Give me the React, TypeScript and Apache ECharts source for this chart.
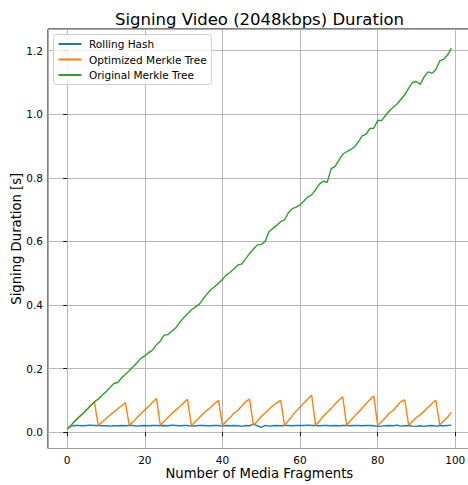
import React, { useEffect, useRef } from "react";
import * as echarts from "echarts";

const TITLE = "Signing Video (2048kbps) Duration";
const X_LABEL = "Number of Media Fragments";
const Y_LABEL = "Signing Duration [s]";
const SERIES_NAMES = ["Rolling Hash", "Optimized Merkle Tree", "Original Merkle Tree"];
const COLORS = ["#1f77b4", "#ff7f0e", "#2ca02c"];

const rollingHash = [
  0.010, 0.019, 0.021, 0.021, 0.020, 0.021, 0.022, 0.021, 0.021, 0.020,
  0.020, 0.019, 0.020, 0.020, 0.021, 0.020, 0.021, 0.021, 0.019, 0.020,
  0.021, 0.020, 0.021, 0.021, 0.020, 0.021, 0.020, 0.022, 0.021, 0.020,
  0.021, 0.021, 0.019, 0.020, 0.021, 0.021, 0.020, 0.020, 0.021, 0.021,
  0.019, 0.021, 0.020, 0.021, 0.020, 0.018, 0.021, 0.020, 0.026, 0.020,
  0.015, 0.021, 0.019, 0.020, 0.021, 0.020, 0.021, 0.021, 0.020, 0.021,
  0.021, 0.021, 0.022, 0.021, 0.021, 0.020, 0.021, 0.021, 0.020, 0.021,
  0.020, 0.021, 0.021, 0.020, 0.021, 0.021, 0.020, 0.021, 0.021, 0.020,
  0.018, 0.019, 0.020, 0.021, 0.020, 0.022, 0.019, 0.020, 0.021, 0.019,
  0.018, 0.020, 0.018, 0.020, 0.021, 0.019, 0.020, 0.020, 0.021, 0.022,
];

const optimizedMerkle = [
  0.010, 0.022, 0.035, 0.047, 0.058, 0.070, 0.083, 0.095,
  0.021, 0.032, 0.043, 0.053, 0.063, 0.073, 0.082, 0.093,
  0.021, 0.033, 0.046, 0.058, 0.070, 0.081, 0.094, 0.106,
  0.021, 0.034, 0.047, 0.059, 0.070, 0.080, 0.092, 0.103,
  0.020, 0.033, 0.045, 0.058, 0.068, 0.078, 0.090, 0.100,
  0.021, 0.034, 0.046, 0.060, 0.069, 0.082, 0.096, 0.104,
  0.021, 0.034, 0.049, 0.060, 0.072, 0.083, 0.092, 0.100,
  0.021, 0.036, 0.051, 0.066, 0.079, 0.092, 0.104, 0.116,
  0.021, 0.035, 0.050, 0.062, 0.074, 0.088, 0.100, 0.111,
  0.021, 0.036, 0.050, 0.062, 0.076, 0.089, 0.102, 0.114,
  0.021, 0.033, 0.045, 0.060, 0.068, 0.083, 0.096, 0.101,
  0.021, 0.034, 0.046, 0.055, 0.066, 0.078, 0.090, 0.100,
  0.022, 0.035, 0.047, 0.062,
];

const originalMerkle = [
  0.010, 0.022, 0.035, 0.047, 0.058, 0.070, 0.083, 0.095, 0.104, 0.116,
  0.127, 0.140, 0.153, 0.156, 0.170, 0.182, 0.193, 0.206, 0.218, 0.232,
  0.240, 0.250, 0.258, 0.275, 0.287, 0.305, 0.307, 0.318, 0.328, 0.345,
  0.360, 0.372, 0.385, 0.393, 0.402, 0.418, 0.434, 0.448, 0.458, 0.468,
  0.480, 0.494, 0.503, 0.514, 0.526, 0.529, 0.545, 0.562, 0.576, 0.589,
  0.590, 0.600, 0.630, 0.641, 0.651, 0.662, 0.668, 0.690, 0.703, 0.708,
  0.715, 0.727, 0.740, 0.746, 0.763, 0.780, 0.789, 0.786, 0.828, 0.836,
  0.855, 0.874, 0.882, 0.888, 0.897, 0.912, 0.932, 0.937, 0.955, 0.956,
  0.980, 0.980, 0.996, 1.010, 1.022, 1.032, 1.047, 1.061, 1.082, 1.100,
  1.102, 1.094, 1.118, 1.133, 1.129, 1.140, 1.168, 1.173, 1.186, 1.208,
];

const SERIES_VALUES = [rollingHash, optimizedMerkle, originalMerkle];

const X_MIN = -4.95;
const X_MAX = 103.95;
const Y_MIN = -0.0515;
const Y_MAX = 1.268;

const FONT = "DejaVu Sans";

export default function App() {
  const ref = useRef<HTMLDivElement>(null);
  useEffect(() => {
    if (!ref.current) return;
    const chart = echarts.init(ref.current, null, { renderer: "svg" });
    const isMultiple = (v: number, step: number) =>
      Math.abs(v / step - Math.round(v / step)) < 1e-6;
    chart.setOption({
      animation: false,
      backgroundColor: "#ffffff",
      textStyle: { fontFamily: FONT },
      title: {
        text: TITLE,
        left: 259.5,
        top: 10.5,
        textAlign: "center",
        padding: 0,
        textStyle: { fontFamily: FONT, fontSize: 16.5, fontWeight: "normal", color: "#000" },
      },
      legend: {
        data: SERIES_NAMES,
        orient: "vertical",
        left: 53.5,
        top: 34.5,
        padding: [4, 5, 4, 4],
        itemWidth: 23,
        itemHeight: 11,
        itemGap: 4.5,
        itemStyle: { opacity: 0 },
        backgroundColor: "rgba(255,255,255,0.8)",
        borderColor: "#cccccc",
        borderWidth: 1,
        borderRadius: 3,
        textStyle: { fontFamily: FONT, fontSize: 10.5, color: "#000", padding: [0, 0, 0, 2.5] },
      },
      grid: {
        left: 48,
        top: 29,
        right: -2.6,
        bottom: 36.5,
        containLabel: false,
        outerBoundsMode: "none",
        show: true,
        borderColor: "#000",
        borderWidth: 1,
        backgroundColor: "transparent",
      },
      xAxis: {
        type: "value",
        min: X_MIN,
        max: X_MAX,
        minInterval: 20,
        maxInterval: 20,
        name: X_LABEL,
        nameLocation: "middle",
        nameGap: 18.5,
        nameMoveOverlap: false,
        nameTextStyle: { fontFamily: FONT, fontSize: 13.2, color: "#000" },
        axisLine: { show: false },
        axisTick: { show: true, inside: false, length: 4, lineStyle: { color: "#000", width: 0.9 } },
        axisLabel: {
          show: true,
          margin: 5.5,
          fontFamily: FONT,
          fontSize: 10.5,
          color: "#000",
          showMinLabel: false,
          showMaxLabel: false,
          formatter: (v: number) => (isMultiple(v, 20) ? String(Math.round(v)) : ""),
        },
        splitLine: { show: true, lineStyle: { color: "#b0b0b0", width: 0.9 } },
      },
      yAxis: {
        type: "value",
        min: Y_MIN,
        max: Y_MAX,
        minInterval: 0.2,
        maxInterval: 0.2,
        name: Y_LABEL,
        nameLocation: "middle",
        nameRotate: 90,
        nameGap: 25,
        nameMoveOverlap: false,
        nameTextStyle: { fontFamily: FONT, fontSize: 13.2, color: "#000" },
        axisLine: { show: false },
        axisTick: { show: true, inside: false, length: 4, lineStyle: { color: "#000", width: 0.9 } },
        axisLabel: {
          show: true,
          margin: 5,
          fontFamily: FONT,
          fontSize: 10.5,
          color: "#000",
          showMinLabel: false,
          showMaxLabel: false,
          formatter: (v: number) => (isMultiple(v, 0.2) ? v.toFixed(1) : ""),
        },
        splitLine: { show: true, lineStyle: { color: "#b0b0b0", width: 0.9 } },
      },
      series: SERIES_NAMES.map((name, k) => ({
        name,
        type: "line",
        symbol: "none",
        showSymbol: false,
        color: COLORS[k],
        lineStyle: { color: COLORS[k], width: 1.4 },
        data: SERIES_VALUES[k].map((v, i) => [i, v]),
      })),
    });
    return () => chart.dispose();
  }, []);
  return (
    <div
      ref={ref}
      style={{ position: "fixed", left: 0, top: 0, width: 468, height: 485, background: "#fff" }}
    />
  );
}
